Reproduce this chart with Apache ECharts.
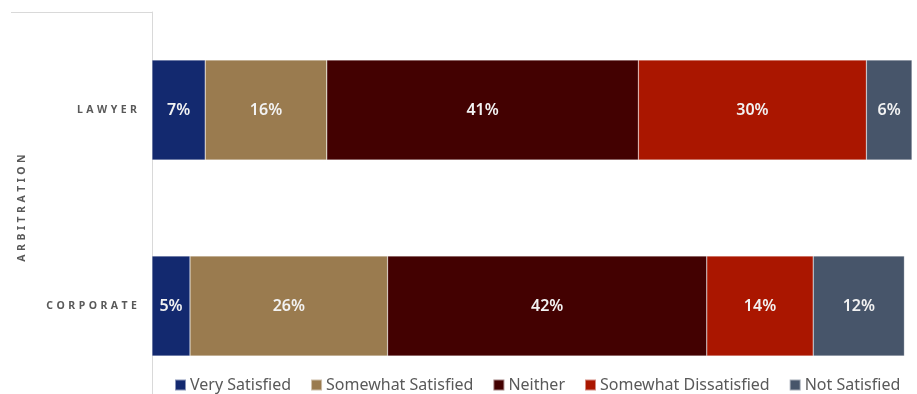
<!DOCTYPE html>
<html>
<head>
<meta charset="utf-8">
<style>
  html, body { margin: 0; padding: 0; background: #fff; }
  #chart { width: 917px; height: 394px; }
</style>
<script src="https://cdn.jsdelivr.net/npm/echarts@6/dist/echarts.min.js"></script>
</head>
<body>
<div id="chart"></div>
<script>
// Satisfaction with arbitration, by respondent group (percent)
const groupTitle = 'ARBITRATION';
const categories = ['LAWYER', 'CORPORATE'];
const seriesNames = ['Very Satisfied', 'Somewhat Satisfied', 'Neither', 'Somewhat Dissatisfied', 'Not Satisfied'];
const verySatisfied = [7, 5];
const somewhatSatisfied = [16, 26];
const neither = [41, 42];
const somewhatDissatisfied = [30, 14];
const notSatisfied = [6, 12];
const palette = ['#13296f', '#9a7b4f', '#430101', '#aa1600', '#47556a'];

const values = [verySatisfied, somewhatSatisfied, neither, somewhatDissatisfied, notSatisfied];
const spaced = s => s.split('').join('\u2009\u2009');
const font = '"Noto Sans", "Open Sans", sans-serif';

const chart = echarts.init(document.getElementById('chart'), null, { renderer: 'canvas' });
chart.setOption({
  animation: false,
  grid: { left: 152, right: 5, top: 12, height: 392, containLabel: false, outerBoundsMode: 'none' },
  xAxis: { type: 'value', min: 0, max: 100, show: false },
  yAxis: {
    type: 'category',
    data: categories,
    inverse: true,
    axisLine: { show: true, lineStyle: { color: '#d9d9d9', width: 1 } },
    axisTick: { show: false },
    axisLabel: {
      margin: 15,
      color: '#595959',
      fontFamily: font,
      fontSize: 10.5,
      fontWeight: 'bold',
      formatter: v => spaced(v)
    },
    name: spaced(groupTitle),
    nameLocation: 'middle',
    nameRotate: 90,
    nameGap: 124,
    nameTextStyle: { color: '#595959', fontFamily: font, fontSize: 10.5, fontWeight: 'bold' }
  },
  legend: {
    data: seriesNames,
    left: 169,
    top: 372,
    itemWidth: 11,
    itemHeight: 11,
    itemGap: 19,
    icon: 'rect',
    textStyle: { color: '#595959', fontFamily: font, fontSize: 16, padding: [0, 0, 0, -1] }
  },
  graphic: [{
    type: 'line',
    shape: { x1: 11, y1: 12.5, x2: 152, y2: 12.5 },
    style: { stroke: '#d9d9d9', lineWidth: 1 }
  }],
  series: seriesNames.map((name, i) => ({
    name: name,
    type: 'bar',
    stack: 'total',
    barWidth: 100,
    data: values[i],
    itemStyle: { color: palette[i], borderColor: 'rgba(255,255,255,0.5)', borderWidth: 0.5 },
    label: {
      show: true,
      position: 'inside',
      formatter: p => p.value + '%',
      color: '#f2f2f2',
      fontFamily: font,
      fontSize: 16,
      fontWeight: 600
    }
  }))
});
</script>
</body>
</html>
